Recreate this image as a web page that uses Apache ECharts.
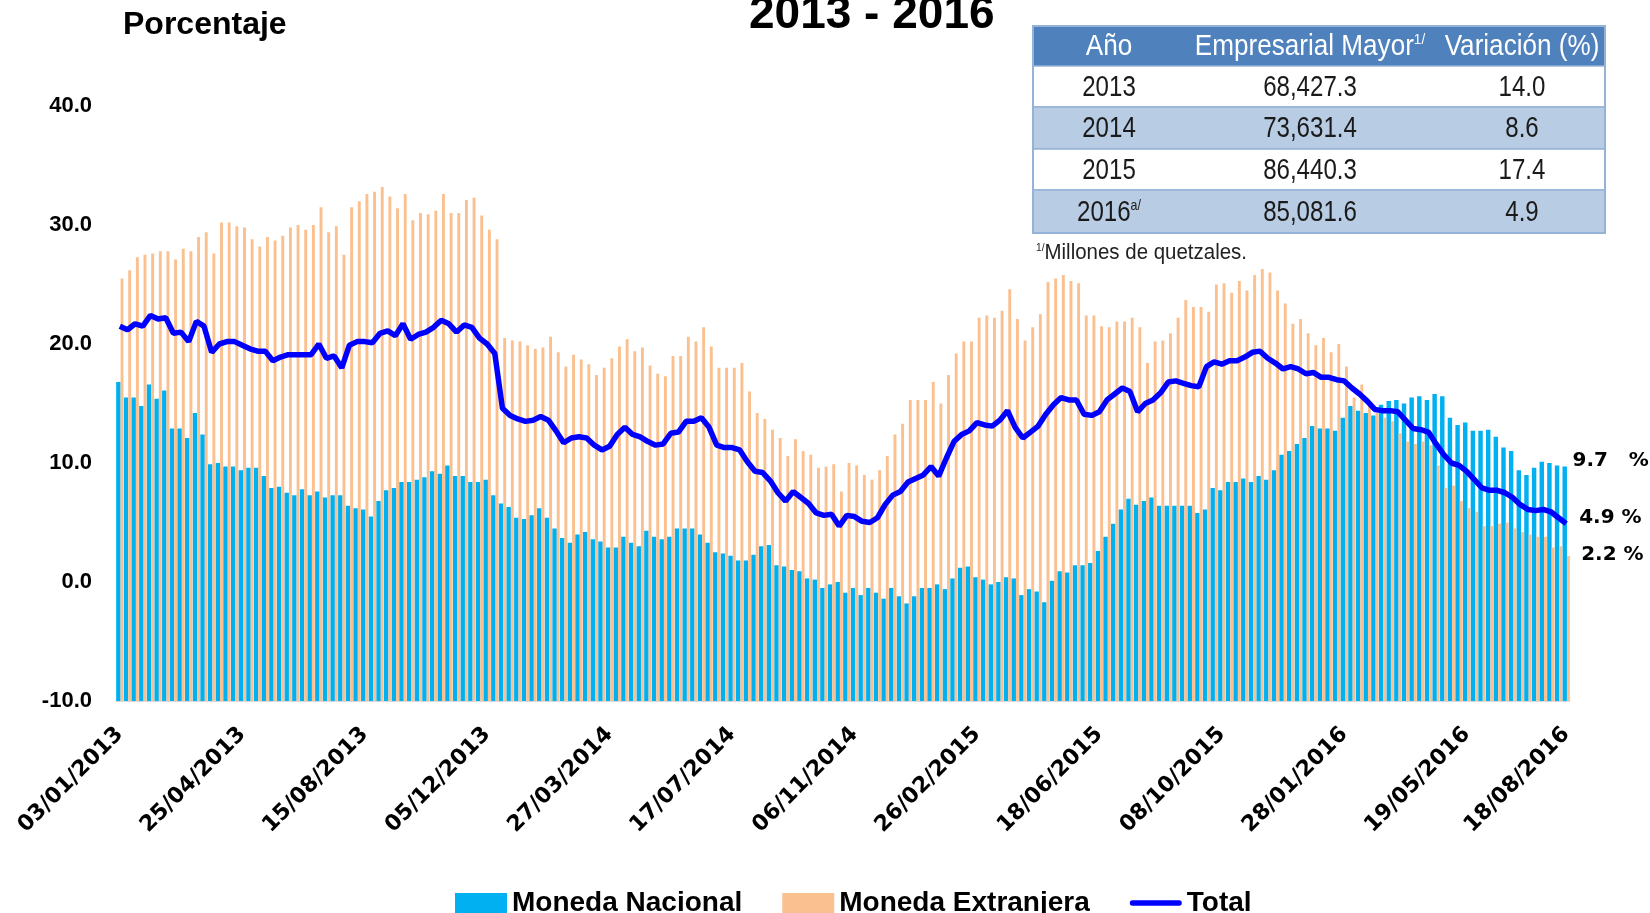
<!DOCTYPE html>
<html>
<head>
<meta charset="utf-8">
<script src="https://cdn.jsdelivr.net/npm/echarts@6/dist/echarts.min.js"></script>
<style>
  html, body { margin: 0; padding: 0; background: #fff; }
  #chart { width: 1650px; height: 913px; }
</style>
</head>
<body>
<div id="chart"></div>
<script>
// fechas semanales (jueves) del 03/01/2013 al 18/08/2016
const fechaInicio = Date.UTC(2013, 0, 3);
const numSemanas = 190;
const fechas = [];
for (let i = 0; i < numSemanas; i++) {
  const d = new Date(fechaInicio + i * 7 * 86400000);
  const dd = String(d.getUTCDate()).padStart(2, "0");
  const mm = String(d.getUTCMonth() + 1).padStart(2, "0");
  fechas.push(dd + "/" + mm + "/" + d.getUTCFullYear());
}

// variacion interanual (%)
const monedaNacional = [
  16.8, 15.5, 15.5, 14.8, 16.6, 15.4, 16.1, 12.9, 12.9, 12.1, 14.2, 12.4, 9.9, 10.0, 9.7, 9.7,
  9.4, 9.6, 9.6, 8.9, 7.9, 8.0, 7.5, 7.3, 7.8, 7.3, 7.6, 7.1, 7.3, 7.3, 6.4, 6.2,
  6.1, 5.5, 6.8, 7.7, 7.9, 8.4, 8.4, 8.6, 8.8, 9.3, 9.1, 9.8, 8.9, 8.9, 8.4, 8.4,
  8.6, 7.3, 6.6, 6.3, 5.4, 5.3, 5.6, 6.2, 5.4, 4.5, 3.7, 3.3, 4.0, 4.2, 3.6, 3.4,
  2.9, 2.9, 3.8, 3.3, 3.0, 4.3, 3.8, 3.6, 3.8, 4.5, 4.5, 4.5, 4.0, 3.3, 2.5, 2.4,
  2.2, 1.8, 1.8, 2.3, 3.0, 3.1, 1.4, 1.3, 1.0, 0.9, 0.3, 0.2, -0.5, -0.2, 0.0, -0.9,
  -0.5, -1.1, -0.5, -0.9, -1.4, -0.5, -1.2, -1.8, -1.2, -0.5, -0.5, -0.2, -0.6, 0.3, 1.2, 1.3,
  0.4, 0.2, -0.2, 0.0, 0.4, 0.3, -1.1, -0.6, -0.8, -1.7, 0.1, 0.9, 0.8, 1.4, 1.4, 1.6,
  2.6, 3.8, 4.9, 6.1, 7.0, 6.5, 6.8, 7.1, 6.4, 6.4, 6.4, 6.4, 6.4, 5.8, 6.1, 7.9,
  7.7, 8.4, 8.4, 8.7, 8.4, 8.9, 8.6, 9.4, 10.7, 11.0, 11.6, 12.1, 13.1, 12.9, 12.9, 12.7,
  13.8, 14.8, 14.4, 14.2, 14.0, 14.9, 15.2, 15.3, 15.0, 15.5, 15.6, 15.3, 15.8, 15.6, 13.8, 13.2,
  13.4, 12.7, 12.7, 12.8, 12.2, 11.3, 11.0, 9.4, 9.0, 9.6, 10.1, 10.0, 9.8, 9.7
];
const monedaExtranjera = [
  25.5, 26.2, 27.3, 27.5, 27.6, 27.8, 27.8, 27.1, 28.0, 27.8, 29.0, 29.4, 27.6, 30.2, 30.2, 29.9,
  29.8, 28.8, 28.2, 29.0, 28.7, 29.1, 29.8, 30.0, 29.6, 30.0, 31.5, 29.4, 29.9, 27.5, 31.5, 32.0,
  32.6, 32.8, 33.2, 32.4, 31.4, 32.6, 30.4, 31.0, 30.9, 31.2, 32.6, 31.0, 31.0, 32.1, 32.3, 30.8,
  29.6, 28.8, 20.5, 20.3, 20.2, 19.9, 19.6, 19.7, 20.6, 19.3, 18.1, 19.1, 18.7, 18.3, 17.4, 18.0,
  18.8, 19.8, 20.4, 19.4, 19.7, 18.2, 17.5, 17.3, 19.0, 19.0, 20.6, 20.2, 21.4, 19.8, 18.0, 18.0,
  18.0, 18.4, 16.0, 14.2, 13.7, 12.8, 12.1, 10.6, 12.0, 11.0, 10.7, 9.6, 9.7, 9.9, 7.6, 10.0,
  9.8, 9.0, 8.6, 9.4, 10.6, 12.4, 13.3, 15.3, 15.3, 15.3, 16.8, 15.0, 17.4, 19.2, 20.2, 20.2,
  22.2, 22.4, 22.2, 22.8, 24.6, 22.1, 20.3, 21.4, 22.5, 25.2, 25.5, 25.8, 25.3, 25.1, 22.4, 22.4,
  21.5, 21.4, 21.9, 21.9, 22.2, 21.4, 18.4, 20.2, 20.3, 20.9, 22.2, 23.7, 23.1, 23.1, 22.7, 25.0,
  25.1, 24.3, 25.3, 24.5, 25.8, 26.3, 26.0, 24.5, 23.4, 21.7, 22.1, 20.9, 19.9, 20.5, 19.3, 20.0,
  18.1, 15.5, 16.6, 15.0, 14.2, 13.8, 13.5, 12.5, 11.8, 11.6, 11.8, 11.5, 9.8, 7.9, 8.1, 6.8,
  6.2, 5.9, 4.7, 4.7, 4.9, 5.0, 4.5, 4.2, 4.0, 3.8, 3.8, 2.9, 3.0, 2.2
];
const total = [
  21.5, 21.2, 21.7, 21.5, 22.4, 22.1, 22.2, 20.9, 21.0, 20.2, 21.9, 21.5, 19.3, 20.0, 20.2, 20.2,
  19.9, 19.6, 19.4, 19.4, 18.6, 18.9, 19.1, 19.1, 19.1, 19.1, 20.0, 18.8, 19.0, 18.0, 19.9, 20.2,
  20.2, 20.1, 20.9, 21.1, 20.7, 21.7, 20.4, 20.8, 21.0, 21.4, 22.0, 21.7, 21.0, 21.6, 21.4, 20.5,
  20.0, 19.2, 14.6, 14.0, 13.7, 13.5, 13.6, 13.9, 13.6, 12.7, 11.7, 12.1, 12.2, 12.1, 11.5, 11.1,
  11.4, 12.4, 13.0, 12.4, 12.2, 11.8, 11.5, 11.6, 12.5, 12.6, 13.5, 13.5, 13.8, 13.0, 11.5, 11.3,
  11.3, 11.1, 10.1, 9.3, 9.2, 8.5, 7.5, 6.8, 7.6, 7.1, 6.6, 5.8, 5.6, 5.7, 4.7, 5.6,
  5.5, 5.1, 5.0, 5.4, 6.5, 7.3, 7.6, 8.4, 8.7, 9.0, 9.7, 8.9, 10.4, 11.8, 12.4, 12.7,
  13.4, 13.2, 13.1, 13.6, 14.4, 13.0, 12.1, 12.6, 13.1, 14.1, 14.9, 15.5, 15.3, 15.3, 14.1, 14.0,
  14.3, 15.3, 15.8, 16.3, 16.0, 14.3, 15.0, 15.3, 15.9, 16.8, 16.9, 16.7, 16.5, 16.4, 18.1, 18.5,
  18.3, 18.6, 18.6, 18.9, 19.3, 19.4, 18.8, 18.4, 17.9, 18.1, 17.9, 17.5, 17.6, 17.2, 17.2, 17.0,
  16.9, 16.3, 15.8, 15.2, 14.5, 14.4, 14.4, 14.3, 13.6, 12.9, 12.8, 12.6, 11.6, 10.7, 10.0, 9.8,
  9.3, 8.6, 7.9, 7.7, 7.7, 7.5, 7.1, 6.5, 6.1, 6.0, 6.1, 5.9, 5.4, 4.9
];

// tabla de saldos
const tablaEncabezado = ["Año", "Empresarial Mayor", "Variación (%)"];
const tablaAnios = ["2013", "2014", "2015", "2016"];
const tablaMayor = ["68,427.3", "73,631.4", "86,440.3", "85,081.6"];
const tablaVariacion = ["14.0", "8.6", "17.4", "4.9"];

const fuenteEje = "DejaVu Sans";
const fuenteTabla = "Liberation Sans";
const ultimo = fechas.length - 1;

function etiquetaFinal(arr, label) {
  return arr.map((v, i) => (i === ultimo ? { value: v, label: label } : v));
}

// texto angosto (tipo Arial Narrow) con escala horizontal
function textoTabla(x, y, texto, color, escala) {
  return {
    type: "text",
    x: x,
    y: y,
    scaleX: escala,
    style: {
      text: texto,
      align: "center",
      verticalAlign: "middle",
      fill: color,
      font: "29px " + fuenteTabla,
      rich: {
        t: { fill: color, fontSize: 29, fontFamily: fuenteTabla },
        s: { fill: color, fontSize: 15, fontFamily: fuenteTabla, verticalAlign: "top" },
      },
    },
  };
}

function tabla() {
  const x0 = 1033, x1 = 1605;
  const filas = [26, 66, 107, 149, 190, 233];
  const colX = [1109, 1310, 1522];
  const els = [];
  els.push({
    type: "rect",
    shape: { x: x0, y: filas[0], width: x1 - x0, height: filas[1] - filas[0] },
    style: { fill: "#4F81BD" },
  });
  for (let r = 0; r < 4; r++) {
    els.push({
      type: "rect",
      shape: { x: x0, y: filas[r + 1], width: x1 - x0, height: filas[r + 2] - filas[r + 1] },
      style: { fill: r % 2 === 0 ? "#FFFFFF" : "#B8CCE4", stroke: "#95B3D7", lineWidth: 1.5 },
    });
  }
  els.push({
    type: "rect",
    shape: { x: x0, y: filas[0], width: x1 - x0, height: filas[5] - filas[0] },
    style: { fill: "none", stroke: "#95B3D7", lineWidth: 2 },
  });
  const enc = [tablaEncabezado[0], "{t|" + tablaEncabezado[1] + "}{s|1/}", tablaEncabezado[2]];
  enc.forEach((t, c) => {
    els.push(textoTabla(colX[c], (filas[0] + filas[1]) / 2 + 1, t, "#FFFFFF", 0.9));
  });
  for (let r = 0; r < 4; r++) {
    const anio = r === 3 ? "{t|" + tablaAnios[r] + "}{s|a/}" : tablaAnios[r];
    [anio, tablaMayor[r], tablaVariacion[r]].forEach((t, c) => {
      els.push(textoTabla(colX[c], (filas[r + 1] + filas[r + 2]) / 2 + 1, t, "#1A1A1A", 0.83));
    });
  }
  els.push({
    type: "text",
    x: 1036,
    y: 253,
    scaleX: 0.93,
    style: {
      text: "{s|1/}{t|Millones de quetzales.}",
      verticalAlign: "middle",
      rich: {
        t: { fill: "#222", fontSize: 22, fontFamily: fuenteTabla },
        s: { fill: "#222", fontSize: 11, fontFamily: fuenteTabla, verticalAlign: "top" },
      },
    },
  });
  return els;
}

const etiquetaFin = {
  fontFamily: fuenteEje,
  fontWeight: "bold",
  fontSize: 20,
  color: "#000",
};

const myChart = echarts.init(document.getElementById("chart"));
const option = {
  backgroundColor: "#FFFFFF",
  animation: false,
  title: [
    {
      text: "2013 - 2016",
      left: 749,
      top: -8,
      padding: 0,
      textStyle: { fontFamily: "Liberation Sans", fontWeight: "bold", fontSize: 46, lineHeight: 46, color: "#000" },
    },
    {
      text: "Porcentaje",
      left: 123,
      top: 9,
      padding: 0,
      textStyle: { fontFamily: "Liberation Sans", fontWeight: "bold", fontSize: 32, lineHeight: 32, color: "#000" },
    },
  ],
  legend: {
    left: 455,
    top: 889,
    itemWidth: 52,
    itemHeight: 20,
    itemGap: 40,
    padding: 0,
    textStyle: { fontFamily: "Liberation Sans", fontWeight: "bold", fontSize: 28, color: "#000" },
    data: [
      { name: "Moneda Nacional", icon: "rect" },
      { name: "Moneda Extranjera", icon: "rect" },
      { name: "Total", icon: "path://M3,0 L55,0 A3,3 0 0 1 55,6 L3,6 A3,3 0 0 1 3,0 Z" },
    ],
  },
  grid: { left: 116, right: 80, top: 106, bottom: 212, containLabel: false },
  xAxis: {
    type: "category",
    data: fechas,
    boundaryGap: true,
    axisLine: { onZero: false, lineStyle: { color: "#D9D9D9", width: 1 } },
    axisTick: { show: false },
    axisLabel: {
      interval: (idx) => idx % 16 === 0 || idx === ultimo,
      rotate: 45,
      margin: 30,
      fontFamily: fuenteEje,
      fontWeight: "bold",
      fontSize: 22,
      color: "#000",
    },
  },
  yAxis: {
    type: "value",
    min: -10,
    max: 40,
    interval: 10,
    startValue: -10,
    splitLine: { show: false },
    axisLine: { show: false },
    axisTick: { show: false },
    axisLabel: {
      margin: 24,
      padding: [8, 0, 0, 0],
      formatter: (v) => v.toFixed(1),
      fontFamily: "Liberation Sans",
      fontWeight: "bold",
      fontSize: 22,
      color: "#000",
    },
  },
  series: [
    {
      name: "Moneda Nacional",
      type: "bar",
      barWidth: "58%",
      barGap: "0%",
      itemStyle: { color: "#00B0F0" },
      data: etiquetaFinal(monedaNacional, Object.assign({
        show: true,
        position: "top",
        offset: [46, 9],
        formatter: "9.7   %",
      }, etiquetaFin)),
    },
    {
      name: "Moneda Extranjera",
      type: "bar",
      barWidth: "38%",
      barGap: "0%",
      itemStyle: { color: "#FAC090" },
      data: etiquetaFinal(monedaExtranjera, Object.assign({
        show: true,
        position: "top",
        offset: [44, 14],
        formatter: "2.2 %",
      }, etiquetaFin)),
    },
    {
      name: "Total",
      type: "line",
      symbol: "none",
      smooth: false,
      z: 5,
      lineStyle: { color: "#0000FF", width: 5.5 },
      itemStyle: { color: "#0000FF" },
      endLabel: Object.assign({
        show: true,
        distance: 13,
        offset: [0, -6],
        formatter: "4.9 %",
      }, etiquetaFin),
      data: total,
    },
  ],
  graphic: tabla(),
};
myChart.setOption(option);
window.addEventListener("resize", () => {
  myChart.resize();
});
</script>
</body>
</html>
